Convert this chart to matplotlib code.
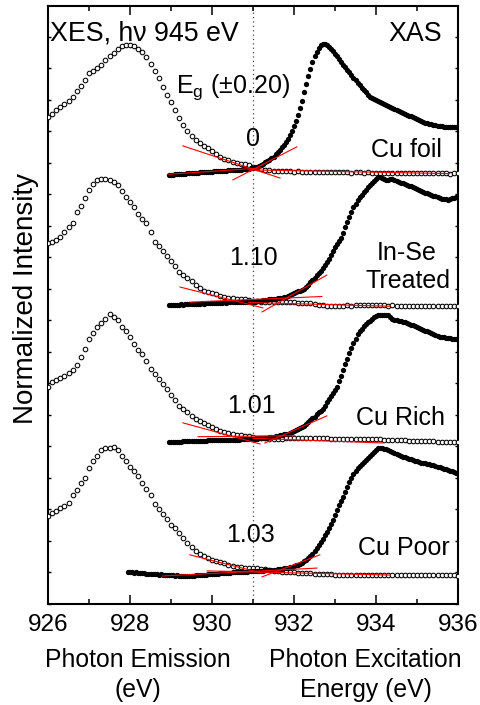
import numpy as np
import matplotlib
matplotlib.use("Agg")
import matplotlib.pyplot as plt
from matplotlib.ticker import MultipleLocator, NullFormatter

plt.rcParams['font.family'] = ['Liberation Sans', 'DejaVu Sans']

# ---------------------------------------------------------------- data
sample_names = ["Cu foil", "In-Se Treated", "Cu Rich", "Cu Poor"]
gap_labels = ["0", "1.10", "1.01", "1.03"]

# XES (photon emission) sampled every 0.1 eV from 926.0 eV
xes_start, xes_step = 926.0, 0.1
# XAS (photon excitation) sampled every 0.05 eV
xas_step = 0.05
xas_start = [928.95, 928.95, 928.95, 927.95]

xes_cu_foil = [
    15.46, 15.55, 15.68, 15.78, 15.86, 15.98, 16.10, 16.28, 16.45, 16.62,
    16.84, 16.92, 17.00, 17.10, 17.27, 17.40, 17.50, 17.62, 17.72, 17.75,
    17.74, 17.71, 17.63, 17.52, 17.35, 17.15, 16.92, 16.68, 16.42, 16.16,
    15.92, 15.68, 15.44, 15.20, 15.02, 14.86, 14.72, 14.62, 14.53, 14.46,
    14.38, 14.28, 14.19, 14.13, 14.08, 14.03, 14.00, 13.97, 13.95, 13.93,
    13.87, 13.83, 13.80, 13.78, 13.76, 13.75, 13.74, 13.74, 13.73, 13.73,
    13.72, 13.73, 13.72, 13.71, 13.72, 13.72, 13.71, 13.70, 13.71, 13.71,
    13.70, 13.71, 13.70, 13.70, 13.69, 13.70, 13.70, 13.69, 13.70, 13.69,
    13.69, 13.68, 13.69, 13.69, 13.68, 13.68, 13.69, 13.68, 13.67, 13.68,
    13.68, 13.67, 13.68, 13.67, 13.67, 13.68, 13.67, 13.67, 13.66, 13.67,
    13.67,
]
xes_in_se = [
    11.46, 11.50, 11.55, 11.65, 11.82, 11.95, 12.10, 12.45, 12.62, 12.88,
    13.15, 13.32, 13.45, 13.50, 13.50, 13.45, 13.38, 13.30, 13.10, 12.92,
    12.76, 12.60, 12.38, 12.22, 12.08, 11.80, 11.50, 11.35, 11.20, 11.05,
    10.90, 10.72, 10.55, 10.45, 10.35, 10.25, 10.12, 10.03, 9.95, 9.90,
    9.86, 9.83, 9.79, 9.75, 9.72, 9.70, 9.69, 9.68, 9.67, 9.66,
    9.63, 9.61, 9.60, 9.60, 9.59, 9.59, 9.58, 9.58, 9.57, 9.57,
    9.57, 9.56, 9.56, 9.56, 9.54, 9.52, 9.50, 9.48, 9.46, 9.46,
    9.47, 9.46, 9.47, 9.48, 9.47, 9.48, 9.48, 9.49, 9.48, 9.49,
    9.49, 9.48, 9.48, 9.47, 9.48, 9.47, 9.47, 9.46, 9.47, 9.46,
    9.46, 9.47, 9.46, 9.46, 9.47, 9.46, 9.46, 9.45, 9.46, 9.46,
    9.46,
]
xes_cu_rich = [
    6.89, 7.05, 7.12, 7.18, 7.24, 7.32, 7.42, 7.60, 7.85, 8.10,
    8.40, 8.60, 8.80, 8.93, 9.05, 9.20, 9.12, 9.00, 8.78, 8.65,
    8.48, 8.25, 8.05, 7.92, 7.70, 7.45, 7.30, 7.15, 6.98, 6.82,
    6.62, 6.46, 6.30, 6.18, 6.08, 5.98, 5.88, 5.80, 5.73, 5.68,
    5.63, 5.57, 5.50, 5.46, 5.42, 5.39, 5.37, 5.35, 5.34, 5.32,
    5.30, 5.28, 5.27, 5.26, 5.25, 5.24, 5.24, 5.25, 5.26, 5.26,
    5.27, 5.27, 5.27, 5.26, 5.27, 5.27, 5.27, 5.26, 5.26, 5.25,
    5.25, 5.24, 5.25, 5.24, 5.24, 5.23, 5.24, 5.24, 5.23, 5.24,
    5.24, 5.23, 5.22, 5.22, 5.21, 5.20, 5.19, 5.19, 5.18, 5.18,
    5.17, 5.17, 5.16, 5.16, 5.16, 5.15, 5.15, 5.14, 5.15, 5.14,
    5.14,
]
xes_cu_poor = [
    2.79, 2.90, 2.96, 3.04, 3.10, 3.22, 3.45, 3.62, 3.85, 4.00,
    4.32, 4.55, 4.70, 4.88, 4.95, 4.95, 4.98, 4.88, 4.70, 4.55,
    4.35, 4.22, 4.05, 3.85, 3.66, 3.45, 3.18, 3.00, 2.85, 2.70,
    2.50, 2.40, 2.25, 2.10, 1.95, 1.80, 1.68, 1.60, 1.53, 1.47,
    1.41, 1.35, 1.32, 1.29, 1.25, 1.22, 1.19, 1.16, 1.15, 1.14,
    1.14, 1.14, 1.12, 1.10, 1.08, 1.05, 1.04, 1.03, 1.02, 1.01,
    1.00, 0.99, 0.98, 0.98, 0.97, 0.96, 0.96, 0.95, 0.95, 0.94,
    0.93, 0.92, 0.93, 0.92, 0.92, 0.93, 0.92, 0.91, 0.92, 0.92,
    0.92, 0.92, 0.91, 0.92, 0.92, 0.93, 0.92, 0.92, 0.93, 0.92,
    0.92, 0.93, 0.92, 0.92, 0.93, 0.92, 0.93, 0.93, 0.92, 0.92,
    0.90,
]

xas_cu_foil = [
    13.62, 13.63, 13.63, 13.64, 13.64, 13.65, 13.65, 13.66, 13.66, 13.67,
    13.67, 13.68, 13.68, 13.69, 13.69, 13.70, 13.70, 13.71, 13.71, 13.72,
    13.72, 13.72, 13.73, 13.73, 13.74, 13.74, 13.74, 13.75, 13.75, 13.76,
    13.76, 13.77, 13.77, 13.78, 13.79, 13.79, 13.80, 13.81, 13.81, 13.82,
    13.83, 13.84, 13.86, 13.88, 13.91, 13.94, 13.98, 14.02, 14.06, 14.10,
    14.15, 14.20, 14.27, 14.35, 14.42, 14.50, 14.58, 14.67, 14.77, 14.88,
    15.02, 15.18, 15.34, 15.52, 15.74, 15.98, 16.25, 16.52, 16.76, 16.98,
    17.20, 17.38, 17.52, 17.64, 17.73, 17.78, 17.78, 17.75, 17.69, 17.62,
    17.55, 17.46, 17.38, 17.29, 17.21, 17.12, 17.03, 16.94, 16.87, 16.79,
    16.70, 16.62, 16.54, 16.46, 16.38, 16.31, 16.24, 16.17, 16.10, 16.06,
    16.02, 15.99, 15.96, 15.92, 15.89, 15.86, 15.83, 15.80, 15.78, 15.74,
    15.71, 15.68, 15.65, 15.62, 15.59, 15.56, 15.53, 15.50, 15.48, 15.45,
    15.42, 15.39, 15.36, 15.33, 15.30, 15.28, 15.26, 15.25, 15.23, 15.21,
    15.20, 15.18, 15.17, 15.16, 15.15, 15.15, 15.14, 15.14, 15.14, 15.13,
    15.13, 15.14,
]
xas_in_se = [
    9.48, 9.49, 9.49, 9.50, 9.49, 9.50, 9.51, 9.50, 9.51, 9.52,
    9.51, 9.52, 9.52, 9.53, 9.52, 9.53, 9.54, 9.53, 9.54, 9.54,
    9.55, 9.55, 9.55, 9.56, 9.55, 9.56, 9.56, 9.57, 9.56, 9.57,
    9.57, 9.58, 9.57, 9.58, 9.58, 9.58, 9.59, 9.58, 9.59, 9.59,
    9.59, 9.59, 9.60, 9.61, 9.62, 9.63, 9.64, 9.65, 9.66, 9.67,
    9.68, 9.68, 9.69, 9.70, 9.71, 9.72, 9.73, 9.75, 9.77, 9.80,
    9.84, 9.88, 9.90, 9.93, 9.95, 9.97, 10.01, 10.07, 10.14, 10.21,
    10.28, 10.35, 10.43, 10.50, 10.58, 10.66, 10.75, 10.85, 10.96, 11.07,
    11.20, 11.33, 11.42, 11.52, 11.62, 11.76, 11.95, 12.13, 12.29, 12.45,
    12.59, 12.70, 12.81, 12.91, 12.99, 13.07, 13.15, 13.23, 13.30, 13.37,
    13.44, 13.50, 13.54, 13.56, 13.53, 13.49, 13.46, 13.47, 13.49, 13.49,
    13.47, 13.43, 13.39, 13.37, 13.35, 13.33, 13.31, 13.28, 13.26, 13.24,
    13.21, 13.18, 13.14, 13.11, 13.08, 13.06, 13.03, 13.01, 12.99, 12.96,
    12.94, 12.91, 12.89, 12.87, 12.85, 12.84, 12.83, 12.85, 12.88, 12.90,
    12.92, 12.92,
]
xas_cu_rich = [
    5.14, 5.14, 5.14, 5.15, 5.15, 5.15, 5.15, 5.16, 5.16, 5.16,
    5.16, 5.17, 5.17, 5.17, 5.17, 5.18, 5.18, 5.18, 5.18, 5.19,
    5.19, 5.19, 5.19, 5.20, 5.20, 5.20, 5.20, 5.21, 5.21, 5.21,
    5.21, 5.22, 5.22, 5.22, 5.22, 5.23, 5.23, 5.23, 5.23, 5.24,
    5.24, 5.24, 5.25, 5.25, 5.26, 5.26, 5.27, 5.28, 5.28, 5.29,
    5.29, 5.30, 5.32, 5.33, 5.35, 5.36, 5.38, 5.40, 5.41, 5.43,
    5.46, 5.49, 5.52, 5.55, 5.58, 5.61, 5.65, 5.71, 5.77, 5.83,
    5.89, 5.95, 6.02, 6.08, 6.14, 6.20, 6.30, 6.41, 6.51, 6.61,
    6.70, 6.79, 6.89, 7.07, 7.25, 7.43, 7.61, 7.78, 7.96, 8.13,
    8.28, 8.42, 8.57, 8.66, 8.74, 8.81, 8.88, 8.94, 8.99, 9.05,
    9.10, 9.15, 9.17, 9.18, 9.18, 9.17, 9.18, 9.16, 9.10, 9.04,
    9.01, 9.00, 8.98, 8.97, 8.95, 8.94, 8.92, 8.90, 8.87, 8.84,
    8.81, 8.78, 8.76, 8.73, 8.70, 8.68, 8.65, 8.62, 8.59, 8.57,
    8.54, 8.51, 8.49, 8.47, 8.46, 8.45, 8.44, 8.43, 8.42, 8.41,
    8.41, 8.40,
]
xas_cu_poor = [
    1.02, 1.01, 1.01, 0.99, 1.00, 0.98, 0.98, 0.97, 0.98, 0.96,
    0.96, 0.95, 0.96, 0.94, 0.94, 0.93, 0.94, 0.92, 0.92, 0.93,
    0.91, 0.92, 0.91, 0.90, 0.91, 0.90, 0.89, 0.90, 0.89, 0.89,
    0.89, 0.90, 0.90, 0.91, 0.91, 0.92, 0.92, 0.93, 0.93, 0.94,
    0.94, 0.95, 0.95, 0.96, 0.96, 0.97, 0.97, 0.98, 0.98, 0.99,
    0.99, 1.00, 1.00, 1.01, 1.01, 1.02, 1.02, 1.03, 1.03, 1.04,
    1.04, 1.05, 1.05, 1.05, 1.06, 1.06, 1.06, 1.07, 1.07, 1.07,
    1.08, 1.08, 1.09, 1.10, 1.11, 1.12, 1.13, 1.14, 1.15, 1.17,
    1.19, 1.21, 1.23, 1.25, 1.28, 1.31, 1.35, 1.40, 1.46, 1.52,
    1.59, 1.68, 1.77, 1.87, 1.97, 2.07, 2.18, 2.29, 2.41, 2.54,
    2.67, 2.83, 2.99, 3.13, 3.27, 3.40, 3.56, 3.72, 3.87, 4.00,
    4.12, 4.22, 4.31, 4.37, 4.43, 4.50, 4.57, 4.64, 4.70, 4.77,
    4.84, 4.90, 4.95, 4.95, 4.94, 4.92, 4.91, 4.89, 4.86, 4.82,
    4.78, 4.75, 4.72, 4.70, 4.68, 4.66, 4.63, 4.61, 4.59, 4.57,
    4.55, 4.53, 4.51, 4.49, 4.48, 4.46, 4.45, 4.43, 4.42, 4.40,
    4.38, 4.36, 4.35, 4.33, 4.30, 4.28, 4.26, 4.23, 4.21, 4.18,
    4.16, 4.15,
]

# linear edge / baseline fits: (E0, E1, I0, I1)
fits_cu_foil = [(929.29, 931.66, 14.54, 13.52), (930.51, 932.07, 13.46, 14.51),
                (928.95, 931.20, 13.64, 13.84), (930.90, 935.80, 13.78, 13.66)]
fits_in_se = [(929.22, 931.24, 10.06, 9.40), (931.22, 932.80, 9.27, 10.44),
              (929.46, 932.68, 9.58, 9.76), (930.90, 934.34, 9.57, 9.45)]
fits_cu_rich = [(929.29, 931.17, 5.75, 5.08), (931.29, 932.80, 5.11, 5.97),
                (929.66, 932.02, 5.31, 5.34), (931.00, 934.17, 5.26, 5.11)]
fits_cu_poor = [(929.46, 931.22, 1.56, 0.98), (931.22, 932.63, 0.86, 1.56),
                (928.80, 932.56, 0.89, 1.14), (929.88, 934.34, 1.05, 0.92)]

fermi_reference = 931.0

xes_sets = [xes_cu_foil, xes_in_se, xes_cu_rich, xes_cu_poor]
xas_sets = [xas_cu_foil, xas_in_se, xas_cu_rich, xas_cu_poor]
fit_sets = [fits_cu_foil, fits_in_se, fits_cu_rich, fits_cu_poor]

# ---------------------------------------------------------------- figure
fig = plt.figure(figsize=(4.81, 7.05), dpi=100)
ax = fig.add_axes([48 / 481, 101 / 705, 410 / 481, 598 / 705])

ax.axvline(fermi_reference, color='#444444', lw=0.9, ls=(0, (1, 2.5)), zorder=1)

for xes, xas, x0, fits in zip(xes_sets, xas_sets, xas_start, fit_sets):
    e_xes = xes_start + xes_step * np.arange(len(xes))
    e_xas = x0 + xas_step * np.arange(len(xas))
    ax.plot(e_xes, xes, 'o', ms=3.3, mfc='white', mec='black', mew=0.75,
            ls='none', zorder=3)
    ax.plot(e_xas, xas, 'o', ms=3.8, mfc='black', mec='black', mew=0,
            ls='none', zorder=4)
    for e0, e1, i0, i1 in fits:
        ax.plot([e0, e1], [i0, i1], color='red', lw=0.8, zorder=5)

ax.set_xlim(926, 936)
ax.set_ylim(0, 18.98)
ax.xaxis.set_major_locator(MultipleLocator(2))
ax.xaxis.set_minor_locator(MultipleLocator(1))
ax.yaxis.set_major_locator(MultipleLocator(1))
ax.yaxis.set_major_formatter(NullFormatter())
ax.tick_params(axis='x', which='major', direction='in', length=6.5, width=1.1,
               top=True, labelsize=17.5, pad=7.5)
ax.tick_params(axis='x', which='minor', direction='in', length=3.6, width=1.1,
               top=True)
ax.tick_params(axis='y', which='major', direction='in', length=2.5, width=1.0,
               right=True, labelleft=False)
for sp in ax.spines.values():
    sp.set_linewidth(1.5)

# annotations
txt = dict(fontsize=18, va='baseline')
ax.text(926.05, 17.87, "XES, h\u03bd 945 eV", ha='left', fontsize=19.3, va='baseline')
ax.text(935.6, 17.87, "XAS", ha='right', fontsize=19.3, va='baseline')
ax.text(930.51, 16.22, "E$_\\mathregular{g}$ (\u00b10.20)", ha='center', **txt)

gap_pos = [(931.0, 14.55), (931.0, 10.76), (930.95, 6.05), (930.95, 1.98)]
for lab, (gx, gy) in zip(gap_labels, gap_pos):
    ax.text(gx, gy, lab, ha='center', **txt)

ax.text(935.6, 14.19, sample_names[0], ha='right', **txt)
ax.text(934.75, 10.92, "In-Se", ha='center', **txt)
ax.text(934.78, 10.03, "Treated", ha='center', **txt)
ax.text(935.68, 5.68, sample_names[2], ha='right', **txt)
ax.text(935.8, 1.56, sample_names[3], ha='right', **txt)

# axis titles
trans = ax.get_xaxis_transform()
ax.text(928.2, -0.1048, "Photon Emission", ha='center', va='baseline',
        fontsize=17.8, transform=trans)
ax.text(928.2, -0.155, "(eV)", ha='center', va='baseline',
        fontsize=17.8, transform=trans)
ax.text(933.75, -0.1048, "Photon Excitation", ha='center', va='baseline',
        fontsize=17.8, transform=trans)
ax.text(933.75, -0.155, "Energy (eV)", ha='center', va='baseline',
        fontsize=17.8, transform=trans)
fig.text(33 / 481, (705 - 299) / 705, "Normalized Intensity", rotation=90,
         rotation_mode='anchor', ha='center', va='baseline', fontsize=20)

fig.savefig("out.png", dpi=100, facecolor='white')
